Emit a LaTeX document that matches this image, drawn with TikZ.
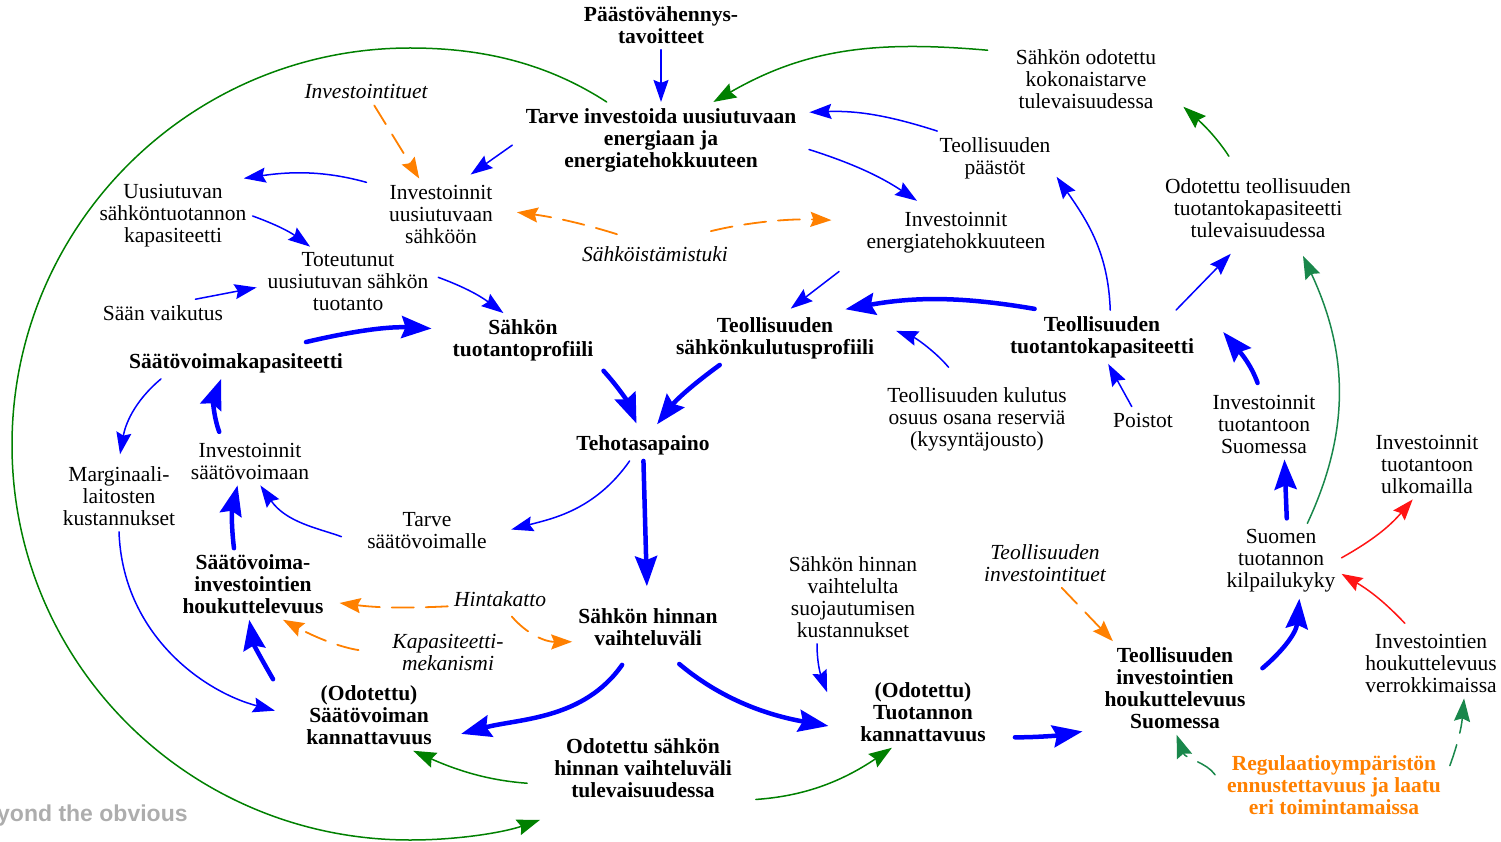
\documentclass[tikz,border=0pt]{standalone}
\usepackage{fontspec}
\setmainfont{Liberation Serif}
\setsansfont{Liberation Sans}
\usetikzlibrary{arrows.meta}
\definecolor{cblue}{RGB}{0,0,255}
\definecolor{cgreen}{RGB}{0,128,0}
\definecolor{cteal}{RGB}{25,135,75}
\definecolor{corange}{RGB}{255,128,0}
\definecolor{cred}{RGB}{255,20,20}
\begin{document}
\begin{tikzpicture}[x=1pt,y=1pt,line cap=round,line join=round,
	every node/.style={font=\fontsize{21.5}{22}\selectfont,align=center,inner sep=6pt},
	bnode/.style={font=\fontsize{21.5}{22}\selectfont\bfseries},
	inode/.style={font=\fontsize{21.5}{22}\selectfont\itshape},
	lnk/.style={cblue,line width=1.5pt,-{Stealth[length=22pt,width=15pt,inset=3pt]}},
	lnkb/.style={cblue,line width=4.5pt,-{Stealth[length=30pt,width=22pt,inset=4pt]}},
	lnkg/.style={cgreen,line width=1.5pt,-{Stealth[length=23pt,width=16pt,inset=3pt]}},
	lnkt/.style={cteal,line width=1.5pt,-{Stealth[length=23pt,width=16pt,inset=3pt]}},
	lnktd/.style={lnkt,dash pattern=on 22pt off 12pt},
	lnko/.style={corange,line width=1.8pt,dash pattern=on 22pt off 12pt,-{Stealth[length=21pt,width=15pt,inset=3pt]}},
	lnkr/.style={cred,line width=1.5pt,-{Stealth[length=21pt,width=15pt,inset=3pt]}}]
	\useasboundingbox (0,0) rectangle (1501,-842);
	% nodes
	\node[bnode] (paasto) at (661,-25) {Päästövähennys-\\tavoitteet};
	\node[bnode] (tarve) at (661,-140) {Tarve investoida uusiutuvaan\\energiaan ja\\energiatehokkuuteen};
	\node (kokonais) at (1086,-79) {Sähkön odotettu\\kokonaistarve\\tulevaisuudessa};
	\node (paastot) at (995,-158) {Teollisuuden\\päästöt};
	\node (odotind) at (1258,-208) {Odotettu teollisuuden\\tuotantokapasiteetti\\tulevaisuudessa};
	\node[inode] (invtuet) at (366,-92) {Investointituet};
	\node (uusikap) at (173,-216) {Uusiutuvan\\sähköntuotannon\\kapasiteetti};
	\node (invuusi) at (441,-214) {Investoinnit\\uusiutuvaan\\sähköön};
	\node (inveneff) at (956,-233) {Investoinnit\\energiatehokkuuteen};
	\node[inode] (sahkoist) at (655,-254) {Sähköistämistuki};
	\node (toteut) at (348,-282) {Toteutunut\\uusiutuvan sähkön\\tuotanto};
	\node (saan) at (163,-313) {Sään vaikutus};
	\node[bnode] (tuotprof) at (523,-340) {Sähkön\\tuotantoprofiili};
	\node[bnode] (kulprof) at (775,-338) {Teollisuuden\\sähkönkulutusprofiili};
	\node[bnode] (indkap) at (1102,-337) {Teollisuuden\\tuotantokapasiteetti};
	\node[bnode] (saatokap) at (236,-363) {Säätövoimakapasiteetti};
	\node (kulutus) at (977,-419) {Teollisuuden kulutus\\osuus osana reserviä\\(kysyntäjousto)};
	\node (poistot) at (1143,-420) {Poistot};
	\node (invsuomi) at (1264,-424) {Investoinnit\\tuotantoon\\Suomessa};
	\node[bnode] (teho) at (643,-445) {Tehotasapaino};
	\node (invsaato) at (250,-461) {Investoinnit\\säätövoimaan};
	\node (marg) at (119,-496) {Marginaali-\\laitosten\\kustannukset};
	\node (invulko) at (1427,-464) {Investoinnit\\tuotantoon\\ulkomailla};
	\node (tarvesaato) at (427,-531) {Tarve\\säätövoimalle};
	\node (kilpailu) at (1281,-561) {Suomen\\tuotannon\\kilpailukyky};
	\node[bnode] (houksaato) at (253,-584) {Säätövoima-\\investointien\\houkuttelevuus};
	\node (suojaus) at (853,-597) {Sähkön hinnan\\vaihtelulta\\suojautumisen\\kustannukset};
	\node[inode] (indtuet) at (1045,-563) {Teollisuuden\\investointituet};
	\node[inode] (hintakatto) at (500,-599) {Hintakatto};
	\node[bnode] (hinta) at (648,-627) {Sähkön hinnan\\vaihteluväli};
	\node[inode] (kapmek) at (448,-652) {Kapasiteetti-\\mekanismi};
	\node (houkver) at (1431,-663) {Investointien\\houkuttelevuus\\verrokkimaissa};
	\node[bnode] (houkind) at (1175,-688) {Teollisuuden\\investointien\\houkuttelevuus\\Suomessa};
	\node[bnode] (saatokann) at (369,-715) {(Odotettu)\\Säätövoiman\\kannattavuus};
	\node[bnode] (tuotkann) at (923,-712) {(Odotettu)\\Tuotannon\\kannattavuus};
	\node[bnode] (odothinta) at (643,-768) {Odotettu sähkön\\hinnan vaihteluväli\\tulevaisuudessa};
	\node[bnode,text=corange] (regul) at (1334,-785) {Regulaatioympäristön\\ennustettavuus ja laatu\\eri toimintamaissa};
	\node[font=\sffamily\bfseries\fontsize{23}{26}\selectfont,text=black!32,anchor=west,inner sep=0pt] (wm) at (-3,-816) {yond the obvious};
	% thin blue links
	\draw[lnk] (paasto) -- (tarve);
	\draw[lnk,shorten >=7pt] (paastot.155) to[bend right=10] (tarve.11);
	\draw[lnk,shorten <=7pt,shorten >=10pt] (tarve.-3) to[bend left=8] (inveneff.139);
	\draw[lnk,shorten <=9pt,shorten >=7pt] (tarve.180) -- (invuusi.56);
	\draw[lnk,shorten <=17pt] (invuusi.155) to[bend right=12] (uusikap.28);
	\draw[lnk] (uusikap.east) to[bend left=8] (toteut.137);
	\draw[lnk,shorten >=5pt] (saan.23) -- (toteut.183);
	\draw[lnk,shorten <=4pt] (toteut.4) to[bend left=8] (tuotprof.126);
	\draw[lnk,shorten <=27pt,shorten >=4pt] (inveneff.193) -- (kulprof.65);
	\draw[lnk] (indkap.73) to[out=92,in=-55] (paastot.-17);
	\draw[lnk,shorten >=14pt] (indkap.20) -- (odotind.-116);
	\draw[lnk,shorten <=18pt,shorten >=17pt] (kulutus.114) to[bend right=15] (kulprof.7);
	\draw[lnk] (poistot.130) -- (indkap.-77);
	\draw[lnk,shorten >=6pt] (saatokap.-168) to[out=-140,in=80] (marg.north);
	\draw[lnk,shorten >=19pt] (teho.-130) to[out=-125,in=15] (tarvesaato.-3);
	\draw[lnk,shorten <=21pt] (tarvesaato.-169) to[out=160,in=-55] (invsaato.-67);
	\draw[lnk,shorten >=26pt] (marg.south) to[out=-88,in=165] (saatokann.-178);
	\draw[lnk] ([xshift=-36pt]suojaus.south) to[out=-90,in=110] ([xshift=-27pt,yshift=-16pt]tuotkann.north west);
	% thick blue links
	\draw[lnkb,shorten >=15pt] ([xshift=70pt,yshift=5pt]saatokap.north) to[bend left=8] (tuotprof.172);
	\draw[lnkb,shorten <=6pt,shorten >=6pt] (tuotprof.-19) to[bend left=10] (teho.105);
	\draw[lnkb,shorten >=6pt] (kulprof.206) to[bend right=8] (teho.57);
	\draw[lnkb,shorten <=7pt,shorten >=10pt] (indkap.156) to[bend right=10] (kulprof.24);
	\draw[lnkb,shorten <=5pt] (invsaato.140) to[bend left=20] (saatokap.-133);
	\draw[lnkb] (houksaato.118) to[bend left=10] (invsaato.-117);
	\draw[lnkb] ([xshift=-27pt]saatokann.north west) to[out=120,in=-80] (houksaato.-96);
	\draw[lnkb,shorten >=16pt] (teho) -- (hinta);
	\draw[lnkb,shorten <=16pt,shorten >=24pt] (hinta.-124) to[out=-125,in=15] (saatokann.-20);
	\draw[lnkb,shorten <=19pt,shorten >=26pt] (hinta.-56) to[out=-40,in=170] (tuotkann.-165);
	\draw[lnkb,shorten <=23pt,shorten >=16pt] (tuotkann.-20) to[bend right=5] (houkind.-152);
	\draw[lnkb,shorten <=14pt] (houkind.8) to[out=40,in=-95] (kilpailu.-64);
	\draw[lnkb,shorten <=5pt] (kilpailu.81) -- (invsuomi.-60);
	\draw[lnkb,shorten <=6pt] (invsuomi.97) to[out=110,in=-50] ([xshift=23pt,yshift=5pt]indkap.east);
	% orange (tuet, katto)
	\draw[lnko] (invtuet) -- (invuusi);
	\draw[lnko,shorten <=20pt,shorten >=18pt] (sahkoist.144) to[bend right=5] (invuusi.4);
	\draw[lnko,shorten <=38pt,shorten >=29pt] (sahkoist.36) to[bend left=8] (inveneff.173);
	\draw[lnko,shorten >=10pt] (hintakatto.-172) to[bend left=5] (houksaato.-13);
	\draw[lnko,shorten <=5pt] (hintakatto.-58) to[bend right=25] (hinta.-169);
	\draw[lnko,shorten <=28pt] (kapmek.-178) to[bend left=10] (houksaato.-50);
	\draw[lnko] (indtuet.-56) -- (houkind.143);
	% green (odotukset)
	\draw[lnkg] (tarve.145) .. controls (545,-62) and (480,-48) .. (410,-48)
		.. controls (190,-48) and (12,-226) .. (12,-445)
		.. controls (12,-664) and (190,-840) .. (410,-840)
		.. controls (460,-840) and (505,-832) .. ([xshift=-8pt,yshift=-16pt]odothinta.south west);
	\draw[lnkg] ([xshift=-22pt,yshift=-7pt]kokonais.north west) to[out=175,in=30] (tarve.36);
	\draw[lnkg,shorten <=19pt] (odotind.118) to[bend right=8] ([xshift=21pt,yshift=8pt]kokonais.south east);
	\draw[lnkt] (kilpailu.55) to[out=65,in=-65] ([xshift=45pt,yshift=-12pt]odotind.south);
	\draw[lnkg,shorten <=21pt] (odothinta.-170) to[bend left=10] (saatokann.-39);
	\draw[lnkg,shorten <=18pt] (odothinta.-19) to[bend right=15] (tuotkann.-131);
	\draw[lnktd,shorten <=10pt] (regul.179) to[out=125,in=-70] (houkind.-88);
	\draw[lnktd,shorten <=8pt] (regul.6) to[out=70,in=-95] (houkver.-47);
	% red
	\draw[lnkr] (kilpailu.3) to[bend right=10] (invulko.-112);
	\draw[lnkr,shorten <=6pt] (houkver.122) to[bend right=8] (kilpailu.-12);
\end{tikzpicture}
\end{document}
